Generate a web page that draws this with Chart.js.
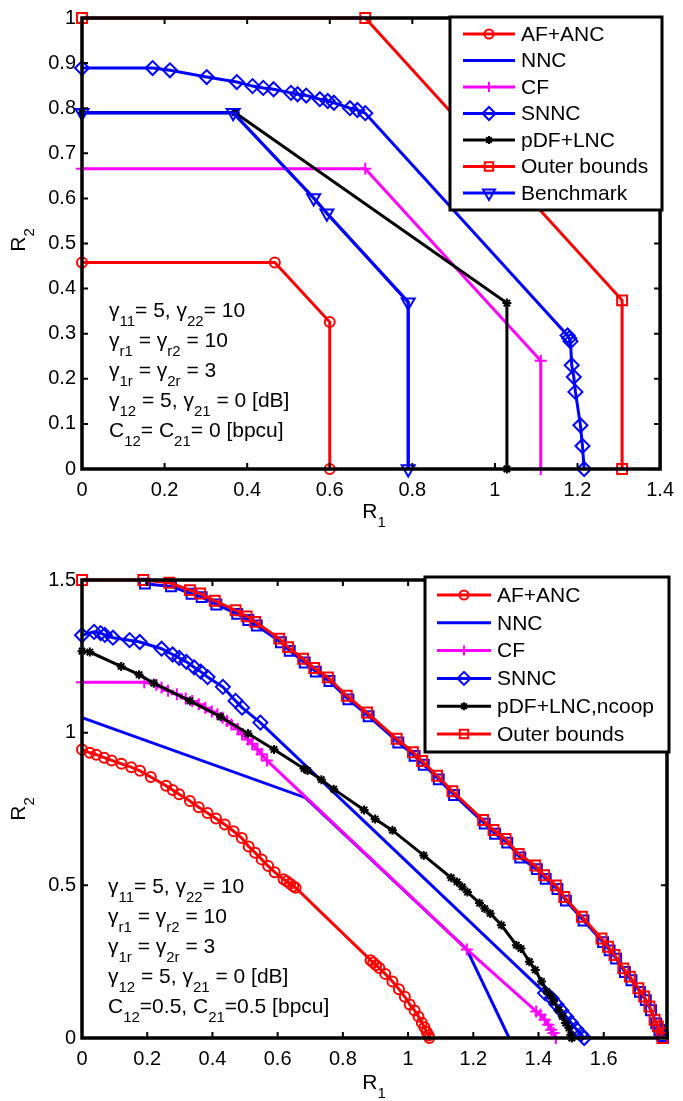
<!DOCTYPE html>
<html><head><meta charset="utf-8">
<script src="https://cdn.jsdelivr.net/npm/chart.js@4.4.1/dist/chart.umd.min.js"></script>
<style>
html,body{margin:0;padding:0;background:#fff;}
#wrap{position:relative;width:683px;height:1101px;overflow:hidden;}
canvas{position:absolute;left:0;}
</style></head><body>
<div id="wrap">
<canvas id="c1" width="683" height="550" style="top:0;width:683px;height:550px"></canvas>
<canvas id="c2" width="683" height="551" style="top:550px;width:683px;height:551px"></canvas>
</div>
<script>
// ===== Top chart data (C12 = C21 = 0) =====
const topXTicks = [0, 0.2, 0.4, 0.6, 0.8, 1, 1.2, 1.4];
const topXTickLabels = ['0','0.2','0.4','0.6','0.8','1','1.2','1.4'];
const topYTicks = [0, 0.1, 0.2, 0.3, 0.4, 0.5, 0.6, 0.7, 0.8, 0.9, 1];
const topYTickLabels = ['0','0.1','0.2','0.3','0.4','0.5','0.6','0.7','0.8','0.9','1'];

const topAF_x = [0, 0.467, 0.600, 0.600];
const topAF_y = [0.458, 0.458, 0.326, 0];
const topNNC_x = [0, 0.366, 0.561, 0.593, 0.790, 0.790];
const topNNC_y = [0.790, 0.790, 0.601, 0.567, 0.370, 0];
const topCF_x = [0, 0.686, 1.111, 1.111];
const topCF_y = [0.666, 0.666, 0.240, 0];
const topSNNC_x = [0, 0.171, 0.213, 0.302, 0.375, 0.413, 0.439, 0.464, 0.506, 0.522, 0.543, 0.576, 0.595, 0.610, 0.649, 0.667, 0.686, 1.176, 1.180, 1.183, 1.186, 1.191, 1.195, 1.207, 1.212, 1.216];
const topSNNC_y = [0.889, 0.889, 0.884, 0.869, 0.858, 0.849, 0.845, 0.842, 0.834, 0.831, 0.828, 0.820, 0.816, 0.812, 0.800, 0.796, 0.789, 0.296, 0.290, 0.283, 0.230, 0.204, 0.171, 0.097, 0.051, 0];
const topPDF_x = [0, 0.371, 1.029, 1.029];
const topPDF_y = [0.790, 0.790, 0.368, 0];
const topOuter_x = [0, 0.686, 1.308, 1.308];
const topOuter_y = [1, 1, 0.374, 0];
const topBench_x = [0, 0.366, 0.561, 0.593, 0.790, 0.790];
const topBench_y = [0.790, 0.790, 0.601, 0.567, 0.370, 0];

// ===== Bottom chart data (C12 = C21 = 0.5) =====
const botXTicks = [0, 0.2, 0.4, 0.6, 0.8, 1, 1.2, 1.4, 1.6];
const botXTickLabels = ['0','0.2','0.4','0.6','0.8','1','1.2','1.4','1.6'];
const botYTicks = [0, 0.5, 1, 1.5];
const botYTickLabels = ['0','0.5','1','1.5'];

const botAF_x = [0, 0.024, 0.044, 0.068, 0.091, 0.121, 0.151, 0.178, 0.211, 0.258, 0.278, 0.298, 0.331, 0.358, 0.385, 0.411, 0.438, 0.465, 0.490, 0.511, 0.531, 0.551, 0.571, 0.591, 0.618, 0.628, 0.638, 0.648, 0.655, 0.885, 0.893, 0.902, 0.912, 0.930, 0.952, 0.972, 0.990, 1.005, 1.020, 1.032, 1.042, 1.050, 1.057, 1.063, 1.065];
const botAF_y = [0.945, 0.934, 0.928, 0.918, 0.909, 0.898, 0.887, 0.875, 0.855, 0.826, 0.812, 0.798, 0.776, 0.756, 0.737, 0.719, 0.699, 0.677, 0.655, 0.627, 0.607, 0.585, 0.563, 0.543, 0.520, 0.513, 0.505, 0.497, 0.492, 0.255, 0.247, 0.238, 0.229, 0.210, 0.185, 0.160, 0.135, 0.110, 0.090, 0.070, 0.050, 0.035, 0.020, 0.008, 0];
const botNNC_x = [0, 0.685, 1.180, 1.310];
const botNNC_y = [1.049, 0.787, 0.290, 0];
const botCF_x = [0, 0.191, 0.228, 0.244, 0.264, 0.291, 0.318, 0.338, 0.358, 0.378, 0.398, 0.415, 0.431, 0.445, 0.458, 0.478, 0.491, 0.509, 0.522, 0.538, 0.551, 0.567, 1.180, 1.393, 1.406, 1.419, 1.430, 1.439, 1.446, 1.453];
const botCF_y = [1.165, 1.165, 1.157, 1.148, 1.137, 1.126, 1.112, 1.104, 1.093, 1.082, 1.069, 1.060, 1.049, 1.038, 1.027, 1.011, 0.995, 0.978, 0.964, 0.945, 0.929, 0.909, 0.290, 0.087, 0.076, 0.060, 0.043, 0.027, 0.016, 0];
const botSNNC_x = [0, 0.037, 0.057, 0.070, 0.095, 0.146, 0.177, 0.244, 0.278, 0.298, 0.320, 0.344, 0.364, 0.385, 0.432, 0.471, 0.491, 0.547, 1.420, 1.440, 1.455, 1.470, 1.485, 1.500, 1.515, 1.530, 1.540];
const botSNNC_y = [1.319, 1.330, 1.326, 1.320, 1.311, 1.303, 1.297, 1.275, 1.256, 1.245, 1.232, 1.214, 1.200, 1.182, 1.150, 1.104, 1.082, 1.033, 0.147, 0.130, 0.110, 0.090, 0.070, 0.050, 0.030, 0.012, 0];
const botPDF_x = [0, 0.024, 0.120, 0.175, 0.220, 0.331, 0.425, 0.509, 0.589, 0.681, 0.692, 0.734, 0.772, 0.865, 0.899, 0.952, 1.048, 1.132, 1.150, 1.166, 1.182, 1.219, 1.235, 1.252, 1.286, 1.332, 1.346, 1.372, 1.390, 1.409, 1.426, 1.439, 1.446, 1.462, 1.473, 1.483, 1.493, 1.499, 1.502];
const botPDF_y = [1.267, 1.264, 1.217, 1.190, 1.162, 1.104, 1.052, 0.997, 0.945, 0.882, 0.876, 0.846, 0.815, 0.747, 0.717, 0.680, 0.598, 0.525, 0.511, 0.495, 0.478, 0.442, 0.424, 0.408, 0.370, 0.304, 0.293, 0.250, 0.223, 0.185, 0.152, 0.136, 0.120, 0.092, 0.071, 0.049, 0.033, 0.011, 0];
const botCoop_x = [0.193, 0.273, 0.336, 0.367, 0.412, 0.476, 0.510, 0.536, 0.610, 0.637, 0.683, 0.717, 0.759, 0.817, 0.879, 0.970, 1.020, 1.048, 1.094, 1.141, 1.235, 1.267, 1.304, 1.344, 1.395, 1.422, 1.458, 1.484, 1.538, 1.598, 1.618, 1.638, 1.665, 1.685, 1.711, 1.729, 1.745, 1.761, 1.771, 1.780, 1.782];
const botCoop_y = [1.488, 1.479, 1.455, 1.444, 1.420, 1.389, 1.369, 1.351, 1.296, 1.268, 1.230, 1.200, 1.169, 1.109, 1.054, 0.968, 0.924, 0.895, 0.847, 0.796, 0.702, 0.669, 0.640, 0.591, 0.553, 0.521, 0.488, 0.450, 0.385, 0.314, 0.287, 0.260, 0.216, 0.189, 0.151, 0.124, 0.091, 0.048, 0.026, 0.006, 0];
const botOuter_x = [0, 0.188, 0.268, 0.331, 0.362, 0.407, 0.471, 0.505, 0.531, 0.605, 0.632, 0.678, 0.712, 0.754, 0.812, 0.874, 0.965, 1.015, 1.043, 1.089, 1.136, 1.230, 1.262, 1.299, 1.339, 1.390, 1.417, 1.453, 1.479, 1.533, 1.593, 1.613, 1.633, 1.660, 1.680, 1.706, 1.724, 1.740, 1.756, 1.766, 1.777, 1.780];
const botOuter_y = [1.5, 1.5, 1.491, 1.467, 1.456, 1.432, 1.401, 1.381, 1.363, 1.308, 1.280, 1.242, 1.212, 1.181, 1.121, 1.066, 0.980, 0.936, 0.907, 0.859, 0.808, 0.714, 0.681, 0.652, 0.603, 0.565, 0.533, 0.500, 0.462, 0.397, 0.326, 0.299, 0.272, 0.228, 0.201, 0.163, 0.136, 0.103, 0.060, 0.038, 0.016, 0];

const annotTop = [
  [['γ',0],['11',1],['= 5, γ',0],['22',1],['= 10',0]],
  [['γ',0],['r1',1],[' = γ',0],['r2',1],[' = 10',0]],
  [['γ',0],['1r',1],[' = γ',0],['2r',1],[' = 3',0]],
  [['γ',0],['12',1],[' = 5, γ',0],['21',1],[' = 0 [dB]',0]],
  [['C',0],['12',1],['= C',0],['21',1],['= 0 [bpcu]',0]]
];
const annotBot = [
  [['γ',0],['11',1],['= 5, γ',0],['22',1],['= 10',0]],
  [['γ',0],['r1',1],[' = γ',0],['r2',1],[' = 10',0]],
  [['γ',0],['1r',1],[' = γ',0],['2r',1],[' = 3',0]],
  [['γ',0],['12',1],[' = 5, γ',0],['21',1],[' = 0 [dB]',0]],
  [['C',0],['12',1],['=0.5, C',0],['21',1],['=0.5 [bpcu]',0]]
];

const RED = '#ff0000', BLUE = '#0000ff', MAG = '#ff00ff', BLK = '#000000';
const FONT = '"Liberation Sans", Arial, Helvetica, sans-serif';

function pts(xs, ys) { return xs.map((x, i) => ({ x: x, y: ys[i] })); }
function mk(label, xs, ys, color, style, r, rot, inLegend) {
  return {
    label: label, legendLabel: inLegend === false ? null : label,
    data: pts(xs, ys), showLine: true, borderColor: color, borderWidth: 3,
    pointStyle: style || false, pointRadius: style ? r : 0, pointRotation: rot || 0,
    pointBorderColor: color, pointBackgroundColor: 'rgba(0,0,0,0)', pointBorderWidth: 2,
    clip: false, tension: 0, fill: false
  };
}

function drawRich(ctx, segs, x, y, main, sub, dy) {
  for (const s of segs) {
    ctx.font = (s[1] ? sub : main) + 'px ' + FONT;
    ctx.fillText(s[0], x, y + (s[1] ? dy : 0));
    x += ctx.measureText(s[0]).width;
  }
  return x;
}
function richWidth(ctx, segs, main, sub) {
  let w = 0;
  for (const s of segs) { ctx.font = (s[1] ? sub : main) + 'px ' + FONT; w += ctx.measureText(s[0]).width; }
  return w;
}

const matlabPlugin = {
  id: 'matlab',
  afterDatasetsDraw(chart, args, o) {
    const ctx = chart.ctx, ca = chart.chartArea;
    const xs = chart.scales.x, ys = chart.scales.y;
    ctx.save();
    ctx.strokeStyle = '#000'; ctx.lineWidth = 2;
    ctx.beginPath();
    xs.ticks.forEach(t => { const p = xs.getPixelForValue(t.value);
      ctx.moveTo(p, ca.bottom); ctx.lineTo(p, ca.bottom - 6); ctx.moveTo(p, ca.top); ctx.lineTo(p, ca.top + 6); });
    ys.ticks.forEach(t => { const p = ys.getPixelForValue(t.value);
      ctx.moveTo(ca.left, p); ctx.lineTo(ca.left + 6, p); ctx.moveTo(ca.right, p); ctx.lineTo(ca.right - 6, p); });
    ctx.stroke();
    ctx.lineWidth = 3.5;
    ctx.strokeRect(ca.left, ca.top, ca.right - ca.left, ca.bottom - ca.top);

    // annotation
    ctx.fillStyle = '#000'; ctx.textAlign = 'left'; ctx.textBaseline = 'alphabetic';
    o.annot.forEach((segs, i) => drawRich(ctx, segs, o.annotX, o.annotY + i * o.annotDy, 21, 15, 9));

    // x title
    const xt = [['R', 0], ['1', 1]];
    const w = richWidth(ctx, xt, 21, 15);
    drawRich(ctx, xt, o.xTitleX - w / 2, o.xTitleY, 21, 15, 9);
    // y title
    const yt = [['R', 0], ['2', 1]];
    const wy = richWidth(ctx, yt, 21, 15);
    ctx.save();
    ctx.translate(o.yTitleX, o.yTitleY);
    ctx.rotate(-Math.PI / 2);
    drawRich(ctx, yt, -wy / 2, 0, 21, 15, 9);
    ctx.restore();

    // legend
    const L = o.legend;
    ctx.fillStyle = '#fff'; ctx.fillRect(L.x, L.y, L.w, L.h);
    ctx.lineWidth = 3; ctx.strokeStyle = '#000'; ctx.strokeRect(L.x, L.y, L.w, L.h);
    let k = 0;
    chart.data.datasets.forEach(ds => {
      if (!ds.legendLabel) return;
      const y = L.y0 + k * L.dy; k++;
      ctx.strokeStyle = ds.borderColor; ctx.lineWidth = 3;
      ctx.beginPath(); ctx.moveTo(L.lx0, y); ctx.lineTo(L.lx1, y); ctx.stroke();
      if (ds.pointStyle) {
        ctx.lineWidth = 2; ctx.fillStyle = 'rgba(0,0,0,0)'; ctx.strokeStyle = ds.pointBorderColor;
        Chart.helpers.drawPoint(ctx, { pointStyle: ds.pointStyle, rotation: ds.pointRotation, radius: L.mr[ds.pointStyle] || ds.pointRadius, borderWidth: 2 }, (L.lx0 + L.lx1) / 2, y);
      }
      ctx.fillStyle = '#000'; ctx.font = '21px ' + FONT; ctx.textBaseline = 'middle'; ctx.textAlign = 'left';
      ctx.fillText(ds.legendLabel, L.tx, y + 1);
      ctx.textBaseline = 'alphabetic';
    });
    ctx.restore();
  }
};

function axisOpts(min, max, ticksArr, labels, pad, isX, size) {
  return {
    type: 'linear', min: min, max: max,
    grid: { display: false, drawTicks: false }, border: { display: false },
    ticks: { font: { family: FONT, size: 20 }, color: '#000', padding: pad, autoSkip: false, maxRotation: 0, minRotation: 0,
      callback: (v, i) => labels[i] },
    afterBuildTicks: s => { s.ticks = ticksArr.map(v => ({ value: v })); },
    afterFit: s => { if (isX) s.height = size; else s.width = size; }
  };
}

function makeChart(id, datasets, xmin, xmax, xt, xl, ymin, ymax, yt, yl, padTop, xH, pluginOpts) {
  const N = datasets.length;
  datasets.forEach((d, i) => d.order = N - i);
  return new Chart(document.getElementById(id), {
    type: 'scatter',
    data: { datasets: datasets },
    options: {
      responsive: false, animation: false, devicePixelRatio: 1,
      layout: { padding: { left: 0, right: 16, top: padTop, bottom: 0 } },
      scales: {
        x: axisOpts(xmin, xmax, xt, xl, 9, true, xH),
        y: axisOpts(ymin, ymax, yt, yl, 6, false, 82)
      },
      plugins: { legend: { display: false }, tooltip: { enabled: false }, matlab: pluginOpts }
    },
    plugins: [matlabPlugin]
  });
}

const markerR = { circle: 4.5, cross: 5, rectRot: 6.5, star: 4, rect: 6, triangle: 7 };

makeChart('c1', [
  mk('AF+ANC', topAF_x, topAF_y, RED, 'circle', 5),
  mk('NNC', topNNC_x, topNNC_y, BLUE, false, 0),
  mk('CF', topCF_x, topCF_y, MAG, 'cross', 6),
  mk('SNNC', topSNNC_x, topSNNC_y, BLUE, 'rectRot', 7),
  mk('pDF+LNC', topPDF_x, topPDF_y, BLK, 'star', 4.5),
  mk('Outer bounds', topOuter_x, topOuter_y, RED, 'rect', 7),
  mk('Benchmark', topBench_x, topBench_y, BLUE, 'triangle', 7.5, 180)
], 0, 1.4, topXTicks, topXTickLabels, 0, 1, topYTicks, topYTickLabels, 10, 81, {
  annot: annotTop, annotX: 109, annotY: 317, annotDy: 30,
  xTitleX: 374, xTitleY: 518, yTitleX: 25, yTitleY: 240,
  legend: { x: 450, y: 17, w: 212, h: 193, y0: 34, dy: 26.5, lx0: 463, lx1: 515, tx: 521, mr: markerR }
});

makeChart('c2', [
  mk('AF+ANC', botAF_x, botAF_y, RED, 'circle', 5),
  mk('NNC', botNNC_x, botNNC_y, BLUE, false, 0),
  mk('CF', botCF_x, botCF_y, MAG, 'cross', 6),
  mk('SNNC', botSNNC_x, botSNNC_y, BLUE, 'rectRot', 7),
  mk('pDF+LNC,ncoop', botPDF_x, botPDF_y, BLK, 'star', 4.5),
  mk('coop', botCoop_x, botCoop_y, BLUE, 'rect', 7, 0, false),
  mk('Outer bounds', botOuter_x, botOuter_y, RED, 'rect', 7)
], 0, 1.794, botXTicks, botXTickLabels, 0, 1.5, botYTicks, botYTickLabels, 30, 63, {
  annot: annotBot, annotX: 108, annotY: 343, annotDy: 30,
  xTitleX: 374, xTitleY: 539, yTitleX: 25, yTitleY: 259,
  legend: { x: 425, y: 27, w: 244, h: 175, y0: 45, dy: 27.8, lx0: 437, lx1: 491, tx: 497, mr: markerR }
});
</script>
</body></html>
